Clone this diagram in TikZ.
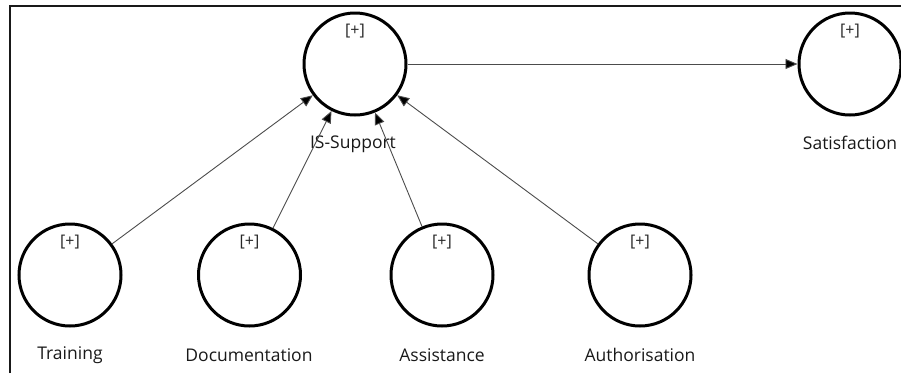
\documentclass[tikz,border=0pt]{standalone}
\usepackage{fontspec}
\setmainfont{Open Sans}
\usetikzlibrary{arrows.meta}
\tikzset{
  construct/.style={circle,draw=black,line width=3pt,minimum size=102pt,inner sep=0pt,
    label={[font=\fontsize{16}{18}\selectfont,text=black!85,inner sep=0pt,yshift=33pt]center:{[+]}}},
  lbl/.style={font=\fontsize{17.5}{20}\selectfont,text=black!90,inner sep=0pt},
  link/.style={draw=black!70,line width=0.9pt,-{Triangle[length=12pt,width=10pt,fill=black]}},
}
\begin{document}
\begin{tikzpicture}[x=1pt,y=-1pt]
\useasboundingbox (0,0) rectangle (901,373);
\draw[line width=2pt,black!90] (10,373) -- (10,6) -- (901,6);
\node[construct] (is) at (355,64) {};
\node[construct] (sat) at (850,64) {};
\node[construct] (tr) at (70,275) {};
\node[construct] (doc) at (249.5,275) {};
\node[construct] (as) at (442,275) {};
\node[construct] (au) at (640,275) {};
\node[lbl] (isl) at (353,144) {IS-Support};
\node[lbl] (satl) at (850,143) {Satisfaction};
\node[lbl] (trl) at (70,355) {Training};
\node[lbl] (docl) at (249,355) {Documentation};
\node[lbl] (asl) at (442,355) {Assistance};
\node[lbl] (aul) at (640,355) {Authorisation};
\draw[link] (tr) -- (is);
\draw[link] (doc) -- (is);
\draw[link] (as) -- (is);
\draw[link] (au) -- (is);
\draw[link] (is) -- (sat);
\end{tikzpicture}
\end{document}
